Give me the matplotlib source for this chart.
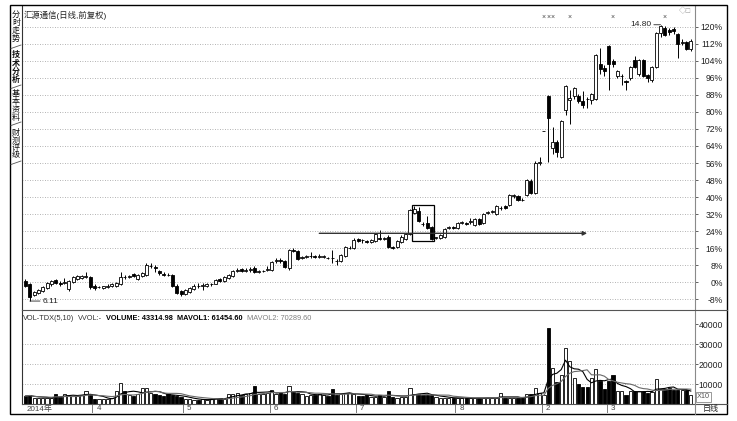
import matplotlib
matplotlib.use('Agg')
import matplotlib.pyplot as plt
from matplotlib.patches import Rectangle
from matplotlib.lines import Line2D
import numpy as np
import pandas as pd

plt.rcParams['font.family'] = ['Liberation Sans', 'Noto Sans CJK SC', 'DejaVu Sans']

W, H = 737, 421

# ---------------- data (percent vs. base price, daily candles) ----------------
# one line per month: 2014-03 .. 2014-08, 2015-02, 2015-03
opens = [0.5, -1, -6, -5, -4, -2.5, -1, 1, -0.5, -0.5, -3, 0, 1.5, 2, 2.5, 2.5,
         -1.5, -2.3, -2.5, -2.2, -1.8, -1.5, -1, 2.5, 2.5, 4, 1.5, 3, 3.5, 7.5, 7, 5.5, 4, 3.5, 3.5, -1.5, -4,
         -5.5, -4.5, -3, -1.5, -1.5, -1.5, -1, -0.8, 1.5, 0.5, 2, 3, 5.5, 6.2, 5.5, 5.8, 6.5, 5, 5.2, 6,
         6, 10, 10.5, 10, 6.5, 15, 14.5, 11.5, 12, 12.2, 12.5, 12, 12, 11.5, 11.5, 10, 10, 12.5, 16, 16,
         20.5, 20, 19.5, 19, 19.5, 21, 20.5, 21.5, 16.5, 16.5, 19, 20.5, 22.5, 32.5, 33.5, 27.5, 28, 26, 20.8,
         21, 21.5, 25.5, 25.8,
         25.5, 28, 28, 28.3, 27, 29.5, 28, 32.5, 33, 32, 34.8, 36, 36.5, 40.5, 40.5, 38.8, 41, 47.5, 42, 56,
         71, 87.5, 63, 66, 59, 81, 85.5, 87.5, 87.5, 85, 86.2, 85.5, 86, 102.5, 100.5,
         111, 104, 97, 96.8, 94.3, 96, 104.5, 98, 104.5, 97.5, 95, 101, 117, 119.5, 118.5, 119, 116.5, 112.5,
         113, 109.5]
highs = [1.5, -0.5, -4, -3, -1.5, 0, 1, 1.5, 0.5, 2, 1, 3, 3.5, 3.5, 5, 3,
         -1, -1.5, -1.5, -1, -0.5, 0, 5, 3.5, 3.5, 4.5, 4, 5, 9, 9.2, 8, 6, 5, 4.5, 4, -1, -3.5,
         -3, -2, -1, -0.5, -0.5, -0.5, -0.3, 1.5, 2, 3, 4, 6, 6.5, 6.5, 6.5, 7, 7.5, 6, 6, 7.5,
         10, 11.5, 11.2, 10.5, 15.5, 16, 15, 12.5, 13, 14, 13, 13.5, 12.8, 12, 15, 11, 13.5, 17, 17, 21,
         21, 20.5, 20, 20.5, 23, 24.5, 21.5, 22, 17, 20, 22, 23, 34.5, 36, 35.5, 28.5, 31, 26.5, 21.5,
         22.5, 25.5, 26.5, 26.5,
         28.5, 29, 28.5, 30, 30, 30, 32.5, 33.5, 34, 36.5, 35.8, 36.5, 41.5, 41.5, 41, 39.5, 48.5, 48.5, 57, 59,
         71, 88, 73, 67, 76, 92.5, 90.5, 91.5, 88.5, 90, 87, 89, 107, 110, 102,
         111.5, 105, 99.5, 98, 95, 101.5, 106, 105, 105, 98, 101.5, 117.5, 120.9, 120.5, 119.5, 120, 117, 114,
         113.5, 114]
lows = [-2, -8.8, -6.5, -5.5, -4.5, -3, -1.5, -1, -1.5, -1, -4, -0.5, 1, 1.5, 2, -3,
        -3.5, -2.8, -3, -2.5, -2, -2, -1.2, 1.5, 2, 2.5, 1, 2.5, 3, 6.5, 5, 3.5, 3, 2.8, -2, -5.5, -6.5,
        -6, -5, -3.5, -2.5, -3.5, -2, -1.5, -1, 0, 0, 1.5, 2.5, 5, 4.8, 5, 5, 4.5, 4.5, 4.8, 5.5,
        5.5, 9, 9, 6.5, 6, 14, 10.5, 11, 11.5, 11.5, 11.5, 11.5, 11.3, 11, 9, 8, 9.5, 12, 15.5, 15.5,
        19, 18.5, 18.5, 18.5, 19, 20, 20, 16, 15.5, 16, 18.5, 20, 22, 32, 28.5, 26.5, 25, 19.8, 20.2,
        20.5, 21, 25, 25.2,
        25, 27.5, 27, 27.5, 26.5, 27, 27.5, 32, 32.5, 31.5, 34, 34.5, 36, 39.5, 38, 38, 40.5, 41.5, 41.5, 55,
        71, 56.5, 60, 59, 58.5, 78.5, 74.5, 86, 84, 82, 81.9, 83.8, 85.5, 98, 97,
        90.5, 101, 96, 92.5, 90.4, 95, 100.5, 97, 96.5, 94, 93.8, 100.5, 115, 115.5, 116, 116.5, 105.4, 111.5,
        109, 108.5]
closes = [-1.5, -7, -4.5, -3.5, -2, -0.5, 0.5, -0.5, -0.8, 0, 0.5, 2.5, 3, 2.8, 2.7, -2,
          -2.5, -2, -1.8, -1.5, -1, -0.5, 2.5, 2.3, 2.8, 3, 3.5, 4.5, 8, 7.8, 6.5, 4.5, 3.5, 3.2, -1.5, -5, -5.5,
          -3.5, -2.5, -1.5, -1.8, -1.2, -1, -0.8, 1, 0.5, 2.5, 3.5, 5.5, 5.8, 5.2, 5.8, 6, 5, 5.3, 5.5, 6.2,
          9.5, 10.2, 10, 7, 15, 14.8, 11, 12, 12.3, 12.5, 12, 12.3, 12.2, 11.3, 11.2, 9.8, 13, 16.5, 16.2, 20,
          19.5, 19.7, 18.8, 20, 22.5, 20.5, 20.7, 16.5, 16.3, 19.5, 21.5, 22.5, 34, 34.5, 29, 27.2, 25.5, 20.5,
          21, 22, 25, 25.8, 25.6,
          28, 28.2, 27.6, 28.5, 29.5, 27.5, 32, 32.8, 33.2, 36, 35, 35, 41, 40.7, 38.6, 38.6, 48, 42, 56, 56.5,
          71, 77, 66, 61, 75.5, 92, 86.5, 91, 85, 83, 86, 88.5, 106.8, 100, 99,
          102.5, 102.5, 99, 97, 94, 101, 101, 104.5, 97, 96, 101, 117, 120.5, 116.2, 117.5, 117.8, 112, 113,
          109.5, 113.5]

# volume, axis units (x10)
volumes = [4000, 4500, 3000, 3000, 3000, 3200, 3000, 5000, 3500, 5000, 4500, 4000, 4200, 4500, 6500, 5000,
           2500, 2500, 2500, 2600, 2800, 6500, 10500, 6500, 4500, 4000, 5000, 8000, 8000, 5500, 5000, 4500,
           4000, 4800, 4500, 3800, 3500,
           2500, 2500, 2200, 2000, 2300, 2000, 2500, 3000, 2800, 2500, 5000, 5000, 5500, 4500, 5000, 5500,
           9000, 5000, 5000, 5500,
           7000, 5000, 5500, 5000, 9000, 6000, 5500, 5000, 4000, 4500, 4500, 5000, 4500, 4000, 7500, 4500,
           5000, 5500, 5500, 5000,
           4000, 4000, 4500, 3500, 3500, 4500, 3500, 6500, 3500, 3000, 3500, 3500, 8000, 5000, 5000, 4500,
           4500, 4500, 3500, 3000, 3000, 3200, 3000,
           3000, 3000, 2800, 3000, 3200, 3000, 3000, 3200, 3000, 3000, 5500, 3000, 3200, 3000, 3000, 3000,
           5000, 5000, 8000, 5500,
           4500, 38000, 18000, 11000, 14500, 28000, 21500, 13000, 10000, 8500, 8500, 13000, 17500, 11500, 7500,
           11500, 14500, 6500, 6500, 4500, 6500, 6500, 6500, 6500, 5500, 6000, 12500, 7500, 7500, 8000, 7000,
           7000, 7000, 7000, 4300]

month_starts = [0, 16, 37, 57, 77, 100, 120, 135]
month_labels = ['2014年', '4', '5', '6', '7', '8', '2', '3']

price_ticks = list(range(-8, 121, 8))
vol_ticks = [10000, 20000, 30000, 40000]

low_idx, low_label = 1, '6.11'
high_idx, high_label = 147, '14.80'
mark_idx = [120, 121, 122, 126, 136, 148]   # little x marks on top
box_first, box_last = 90, 94
arrow_level, arrow_from, arrow_to = 23.0, 68, 130

title = '汇源通信(日线,前复权)'
tabs = ['分时走势', '技术分析', '基本资料', '财测评级']
vol_header = [('VOL-TDX(5,10)', 'normal', '#333333'),
              ('VVOL:-', 'normal', '#333333'),
              ('VOLUME: 43314.98', 'bold', 'black'),
              ('MAVOL1: 61454.60', 'bold', 'black'),
              ('MAVOL2: 70289.60', 'normal', '#808080')]

# ---------------- figure / axes layout in pixels ----------------
def fx(px):
    return px / W

def fy(py):
    return 1 - py / H

L, R = 22, 695
fig = plt.figure(figsize=(W / 100, H / 100), dpi=100)
ax = fig.add_axes([fx(L), fy(310), fx(R) - fx(L), fy(6) - fy(310)])
axv = fig.add_axes([fx(L), fy(404), fx(R) - fx(L), fy(310) - fy(404)], sharex=ax)
axd = fig.add_axes([fx(L), fy(413), fx(R) - fx(L), fy(404) - fy(413)], sharex=ax)

o = np.array(opens, float)
h = np.array(highs, float)
l = np.array(lows, float)
c = np.array(closes, float)
v = np.array(volumes, float)
idx = np.arange(len(o))
up = c >= o

grid_kw = dict(color='#9a9a9a', lw=0.6, linestyle=(0, (1, 2)), zorder=0)

# ---------------- price panel ----------------
for t in price_ticks:
    ax.axhline(t, **grid_kw)

ax.vlines(idx, l, h, color='black', lw=0.7, zorder=2)
body_lo = np.minimum(o, c)
body_h = np.maximum(np.abs(c - o), 0.25)
ax.bar(idx[up], body_h[up], bottom=body_lo[up], width=0.7, facecolor='white',
       edgecolor='black', lw=0.6, zorder=3)
ax.bar(idx[~up], body_h[~up], bottom=body_lo[~up], width=0.7, facecolor='black',
       edgecolor='black', lw=0.6, zorder=3)

ax.set_xlim(-0.81, 154.97)
ax.set_ylim(-13.0, 129.7)
ax.set_yticks(price_ticks)
ax.set_yticklabels([f'{t}%' for t in price_ticks])

# box around the pull-back candles
b_lo = l[box_first:box_last + 1].min() - 0.6
b_hi = h[box_first:box_last + 1].max() + 0.4
ax.add_patch(Rectangle((box_first - 0.55, b_lo), box_last - box_first + 1.1, b_hi - b_lo,
                       fill=False, ec='black', lw=0.9, zorder=4))
# horizontal arrow
ax.annotate('', xy=(arrow_to, arrow_level), xytext=(arrow_from, arrow_level),
            arrowprops=dict(arrowstyle='-|>', color='#333333', lw=1.0, mutation_scale=6,
                            shrinkA=0, shrinkB=0), zorder=4)

# low / high labels
ax.annotate(low_label, xy=(low_idx, l[low_idx]), xytext=(low_idx + 3.0, l[low_idx]),
            fontsize=6, va='center', ha='left', color='#222222',
            arrowprops=dict(arrowstyle='-', lw=0.6, color='#222222', shrinkA=0, shrinkB=0))
ax.annotate(high_label, xy=(high_idx, h[high_idx]), xytext=(high_idx - 2.2, h[high_idx]),
            fontsize=6, va='center', ha='right', color='#222222',
            arrowprops=dict(arrowstyle='-', lw=0.6, color='#222222', shrinkA=0, shrinkB=0))

for m in mark_idx:
    ax.text(m, 124.2, '×', fontsize=5, ha='center', va='center', color='#444444')

ax.text(0.003, 0.985, title, transform=ax.transAxes, fontsize=6, va='top', ha='left',
        color='#222222')

# ---------------- volume panel ----------------
for t in vol_ticks[:3]:
    axv.axhline(t, **grid_kw)
axv.bar(idx[up], v[up], width=0.75, facecolor='white', edgecolor='black', lw=0.6, zorder=3)
axv.bar(idx[~up], v[~up], width=0.75, facecolor='black', edgecolor='black', lw=0.6, zorder=3)
ma5 = pd.Series(v).rolling(5, min_periods=1).mean()
ma10 = pd.Series(v).rolling(10, min_periods=1).mean()
axv.plot(idx, ma5, color='black', lw=0.8, zorder=4)
axv.plot(idx, ma10, color='#6a6a6a', lw=0.8, zorder=4)
axv.set_ylim(0, 47000)
axv.set_yticks(vol_ticks)
axv.set_yticklabels([str(t) for t in vol_ticks])

# header of the volume panel, pieces placed one after another
renderer = fig.canvas.get_renderer()
xpos = 23
for txt, wt, col in vol_header:
    t = fig.text(fx(xpos), fy(318), txt, fontsize=5.3, va='center', ha='left',
                 fontweight=wt, color=col)
    bb = t.get_window_extent(renderer)
    xpos = bb.x1 + 4

# ---------------- styling of both panels ----------------
for a in (ax, axv):
    a.yaxis.tick_right()
    a.tick_params(axis='y', length=2, pad=18, labelsize=6.2, colors='#222222', width=0.5)
    for lbl in a.get_yticklabels():
        lbl.set_horizontalalignment('right')
    a.tick_params(axis='x', bottom=False, labelbottom=False)
    for s in ('top', 'bottom'):
        a.spines[s].set_visible(False)
    a.spines['left'].set_color('#333333')
    a.spines['right'].set_color('#8a8a8a')
    a.spines['left'].set_linewidth(0.8)
    a.spines['right'].set_linewidth(0.8)

# ---------------- date strip ----------------
axd.set_ylim(0, 1)
axd.axis('off')
for s, lab in zip(month_starts, month_labels):
    if s > 0:
        axd.vlines(s - 0.5, 0.05, 0.95, color='#666666', lw=0.6)
    axd.text(s + (0.3 if s == 0 else 0.4), 0.45, lab, fontsize=5.8, va='center', ha='left',
             color='#444444')

# ---------------- frame, separators, side tabs ----------------
fig.add_artist(Rectangle((fx(10), fy(414)), fx(727) - fx(10), fy(5) - fy(414),
                         transform=fig.transFigure, fill=False, ec='black', lw=1.0))
for y0 in (310, 404):
    fig.add_artist(Line2D([fx(L), fx(727)], [fy(y0), fy(y0)], transform=fig.transFigure,
                          color='#555555', lw=0.8))
fig.add_artist(Line2D([fx(R), fx(R)], [fy(404), fy(414)], transform=fig.transFigure,
                      color='#8a8a8a', lw=0.8))

fig.text(fx(697), fy(397), 'X10', fontsize=5.2, va='center', ha='left', color='#555555',
         bbox=dict(boxstyle='square,pad=0.15', fc='white', ec='#888888', lw=0.6))
fig.text(fx(711), fy(409), '日线', fontsize=5.8, va='center', ha='center', color='#222222')
fig.text(fx(685), fy(11), '◇□', fontsize=5.5, va='center', ha='center', color='#999999')

tab_pos = [(8, 46), (49, 86), (89, 123), (126, 162)]
for i, (name, (y0, y1)) in enumerate(zip(tabs, tab_pos)):
    fig.text(fx(16), fy((y0 + y1) / 2), '\n'.join(name), fontsize=5.8, va='center',
             ha='center', linespacing=1.02, color='#111111',
             fontweight='bold' if i == 1 else 'normal')
    fig.add_artist(Line2D([fx(11), fx(21)], [fy(y1 + 2.5), fy(y1 - 1)],
                          transform=fig.transFigure, color='#555555', lw=0.6))

fig.savefig('out.png', dpi=100)
